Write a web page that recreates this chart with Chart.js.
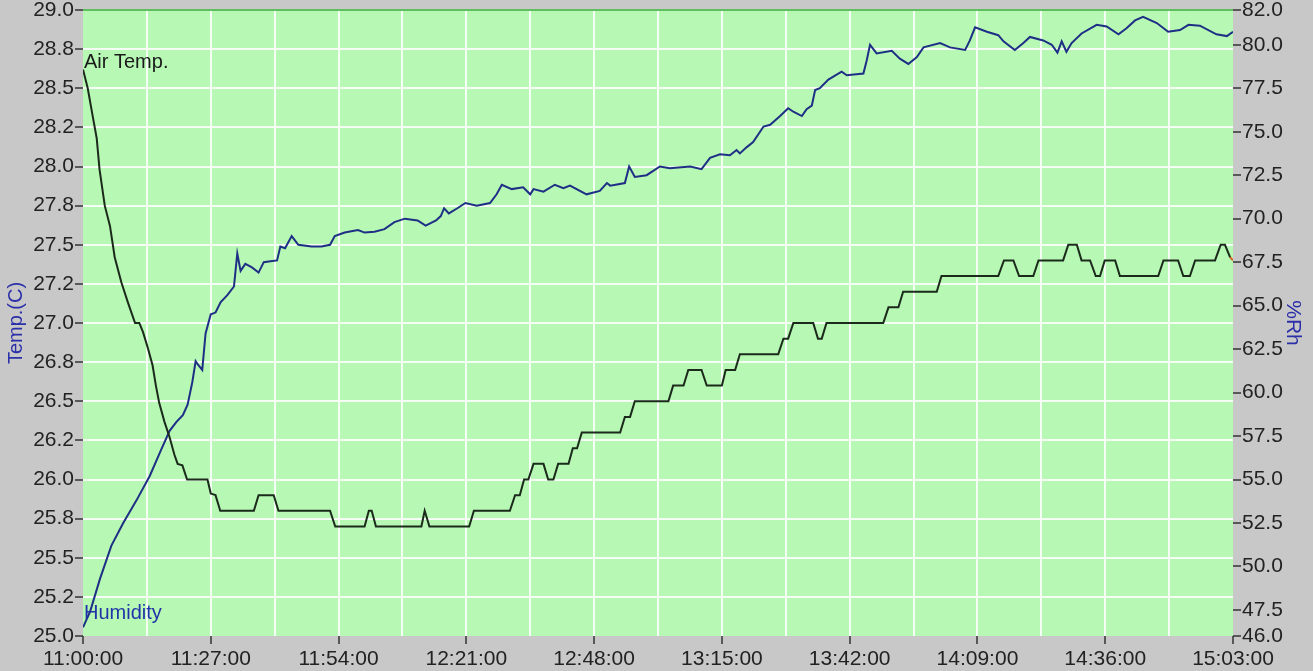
<!DOCTYPE html>
<html>
<head>
<meta charset="utf-8">
<script src="https://cdn.jsdelivr.net/npm/chart.js@4/dist/chart.umd.min.js"></script>
<style>
  html, body { margin: 0; padding: 0; background: #c8c8c8; overflow: hidden; }
  #wrap { width: 1313px; height: 671px; }
</style>
</head>
<body>
<div id="wrap"><canvas id="logChart"></canvas></div>
<script>
// x axis: minutes after 11:00:00
const gridMinutes = [0, 13.5, 27, 40.5, 54, 67.5, 81, 94.5, 108, 121.5, 135, 148.5, 162, 175.5, 189, 202.5, 216, 229.5, 243];
const timeLabels = ['11:00:00', '11:27:00', '11:54:00', '12:21:00', '12:48:00', '13:15:00', '13:42:00', '14:09:00', '14:36:00', '15:03:00'];

const tempTicks = [25, 25.25, 25.5, 25.75, 26, 26.25, 26.5, 26.75, 27, 27.25, 27.5, 27.75, 28, 28.25, 28.5, 28.75, 29];
const tempTickLabels = ['25.0', '25.2', '25.5', '25.8', '26.0', '26.2', '26.5', '26.8', '27.0', '27.2', '27.5', '27.8', '28.0', '28.2', '28.5', '28.8', '29.0'];
const humTicks = [46, 47.5, 50, 52.5, 55, 57.5, 60, 62.5, 65, 67.5, 70, 72.5, 75, 77.5, 80, 82];

// Air Temp. (C)
const tempTimes = [0, 1, 2, 2.9, 3.5, 4.6, 5.7, 6.7, 8.1, 9.5, 11.0, 11.9, 12.7, 13.7, 14.7, 15.4, 16.1, 17.2, 18.3, 19.3,
  20.0, 21.0, 22.0, 26.3, 27.0, 28.0, 29.0, 36.1, 37.1, 40.3, 41.3, 52.2, 53.3, 59.5, 60.4, 61.0, 61.9, 71.5, 72.2, 73.2,
  81.6, 82.6, 90.2, 91.3, 92.3, 93.2, 94.1, 95.2, 97.3, 98.3, 99.4, 100.4, 102.6, 103.5, 104.4, 105.4, 113.5, 114.5, 115.6, 116.6,
  123.7, 124.7, 126.9, 127.9, 130.7, 131.8, 135.0, 135.8, 137.8, 138.8, 146.9, 148.0, 149.0, 150.1, 154.3, 155.3, 156.1, 157.1, 169.1, 170.2,
  172.3, 173.3, 180.4, 181.4, 193.4, 194.6, 196.6, 197.8, 200.8, 201.9, 207.1, 208.2, 210.0, 211.0, 212.8, 214.0, 214.9, 215.9, 218.1, 219.1,
  227.2, 228.3, 231.4, 232.5, 233.9, 235.0, 239.2, 240.4, 241.3, 242.4, 243];
const tempValues = [28.62, 28.50, 28.33, 28.18, 27.98, 27.75, 27.62, 27.42, 27.26, 27.13, 27.0, 27.0, 26.94, 26.84, 26.73, 26.6, 26.49, 26.37, 26.27, 26.16,
  26.1, 26.09, 26.0, 26.0, 25.91, 25.9, 25.8, 25.8, 25.9, 25.9, 25.8, 25.8, 25.7, 25.7, 25.8, 25.8, 25.7, 25.7, 25.8, 25.7,
  25.7, 25.8, 25.8, 25.9, 25.9, 26.0, 26.0, 26.1, 26.1, 26.0, 26.0, 26.1, 26.1, 26.2, 26.2, 26.3, 26.3, 26.4, 26.4, 26.5,
  26.5, 26.6, 26.6, 26.7, 26.7, 26.6, 26.6, 26.7, 26.7, 26.8, 26.8, 26.9, 26.9, 27.0, 27.0, 26.9, 26.9, 27.0, 27.0, 27.1,
  27.1, 27.2, 27.2, 27.3, 27.3, 27.4, 27.4, 27.3, 27.3, 27.4, 27.4, 27.5, 27.5, 27.4, 27.4, 27.3, 27.3, 27.4, 27.4, 27.3,
  27.3, 27.4, 27.4, 27.3, 27.3, 27.4, 27.4, 27.5, 27.5, 27.42, 27.4];

// Humidity (%Rh)
const humTimes = [0, 1.5, 3.6, 6.0, 8.5, 11.3, 14.1, 16.5, 18.3, 19.7, 21.1, 22.1, 23.1, 23.8, 24.3, 25.2, 25.9, 27.0, 28.0, 29.1,
  30.5, 31.9, 32.6, 33.3, 34.3, 35.7, 37.1, 38.2, 39.6, 41.0, 41.7, 42.7, 44.1, 45.5, 48.3, 50.4, 52.2, 53.2, 55.3, 58.1,
  59.5, 61.6, 63.7, 65.8, 68.0, 70.7, 72.4, 74.6, 75.6, 76.3, 77.3, 79.1, 80.8, 83.2, 86.0, 87.4, 88.5, 90.6, 93.0, 94.5,
  95.2, 97.3, 99.7, 101.5, 102.9, 106.4, 109.2, 110.7, 111.4, 114.5, 115.4, 116.6, 119.1, 121.9, 124.0, 128.3, 130.7, 132.5, 134.6, 136.7,
  138.1, 138.8, 140.2, 141.6, 143.8, 145.2, 147.3, 149.0, 150.1, 151.9, 152.9, 154.0, 154.7, 155.7, 157.5, 160.3, 161.4, 164.9, 165.6, 166.3,
  167.7, 170.9, 172.6, 174.4, 176.2, 177.6, 181.1, 183.2, 186.4, 187.4, 188.5, 191.0, 193.4, 194.5, 196.9, 198.7, 200.1, 202.9, 204.7, 205.9,
  206.8, 207.8, 208.9, 211.0, 214.2, 216.3, 218.8, 220.5, 222.3, 224.0, 226.9, 229.3, 231.8, 233.6, 236.0, 239.5, 241.7, 243.0];
const humValues = [46.5, 47.4, 49.3, 51.2, 52.5, 53.8, 55.2, 56.7, 57.8, 58.3, 58.7, 59.3, 60.6, 61.8, 61.6, 61.3, 63.4, 64.5, 64.6, 65.2,
  65.6, 66.1, 68.0, 67.0, 67.4, 67.2, 66.9, 67.5, 67.55, 67.6, 68.4, 68.3, 69.0, 68.5, 68.4, 68.4, 68.5, 69.0, 69.2, 69.35,
  69.2, 69.25, 69.4, 69.8, 70.0, 69.9, 69.6, 69.9, 70.15, 70.6, 70.3, 70.6, 70.9, 70.75, 70.9, 71.4, 71.95, 71.7, 71.8, 71.4,
  71.7, 71.55, 71.95, 71.75, 71.9, 71.4, 71.6, 72.05, 71.9, 72.05, 73.0, 72.4, 72.5, 73.0, 72.9, 73.0, 72.85, 73.5, 73.7, 73.65,
  73.95, 73.75, 74.1, 74.4, 75.3, 75.4, 75.9, 76.35, 76.15, 75.9, 76.3, 76.5, 77.4, 77.5, 78.0, 78.45, 78.25, 78.35, 79.1, 80.0,
  79.5, 79.65, 79.2, 78.9, 79.3, 79.85, 80.1, 79.85, 79.7, 80.25, 81.0, 80.75, 80.55, 80.2, 79.7, 80.1, 80.45, 80.25, 80.0, 79.55,
  80.2, 79.6, 80.1, 80.65, 81.15, 81.05, 80.6, 80.95, 81.4, 81.6, 81.25, 80.75, 80.85, 81.15, 81.1, 80.6, 80.5, 80.75];

const FONT = 'Liberation Sans, Arial, sans-serif';
const CLEAR = 'rgba(0,0,0,0)';
const GRID = 'rgba(255,255,255,0.85)';

// green plot area on a grey page, plus the series names inside the plot
const backdrop = {
  id: 'backdrop',
  beforeDraw(chart) {
    const {ctx, chartArea: a} = chart;
    ctx.save();
    ctx.fillStyle = '#c8c8c8';
    ctx.fillRect(0, 0, chart.width, chart.height);
    ctx.fillStyle = '#b6f8b4';
    ctx.fillRect(a.left, a.top, a.right - a.left, a.bottom - a.top);
    ctx.restore();
  },
  afterDatasetsDraw(chart) {
    const {ctx, chartArea: a} = chart;
    ctx.save();
    ctx.font = '20px ' + FONT;
    ctx.textAlign = 'left';
    ctx.textBaseline = 'alphabetic';
    ctx.fillStyle = '#1a1a1a';
    ctx.fillText(chart.data.datasets[0].label, a.left + 1, a.top + 58);
    ctx.fillStyle = '#2233aa';
    ctx.fillText(chart.data.datasets[1].label, a.left + 1, a.bottom - 17);
    ctx.restore();
  }
};

const lastTemp = tempTimes.length - 1;

new Chart(document.getElementById('logChart'), {
  type: 'line',
  data: {
    datasets: [{
      label: 'Air Temp.',
      data: tempTimes.map((t, i) => ({x: t, y: tempValues[i]})),
      yAxisID: 'y',
      borderColor: '#1b2a1b',
      borderWidth: 2,
      pointRadius: 0,
      tension: 0,
      segment: { borderColor: c => c.p1DataIndex === lastTemp ? '#d0641e' : undefined }
    }, {
      label: 'Humidity',
      data: humTimes.map((t, i) => ({x: t, y: humValues[i]})),
      yAxisID: 'y2',
      borderColor: '#1e2f85',
      borderWidth: 2,
      pointRadius: 0,
      tension: 0
    }]
  },
  options: {
    responsive: true,
    maintainAspectRatio: false,
    animation: false,
    layout: { padding: { top: 10, left: 0, right: 0, bottom: 0 } },
    plugins: { legend: { display: false }, tooltip: { enabled: false } },
    scales: {
      x: {
        type: 'linear', min: 0, max: 243,
        afterBuildTicks: s => { s.ticks = gridMinutes.map(v => ({value: v})); },
        afterFit: s => { s.height = 35; s.paddingLeft = 0; s.paddingRight = 0; },
        border: { display: false },
        grid: {
          color: c => (c.index === 0 || c.index === gridMinutes.length - 1) ? CLEAR : GRID,
          lineWidth: 2,
          tickColor: c => c.index % 2 === 0 ? '#333' : CLEAR,
          tickWidth: 1.5,
          tickLength: 8
        },
        ticks: {
          autoSkip: false, maxRotation: 0, padding: 3, color: '#222',
          font: { family: FONT, size: 21 },
          callback: (v, i) => i % 2 === 0 ? timeLabels[i / 2] : ''
        }
      },
      y: {
        position: 'left', min: 25, max: 29,
        afterBuildTicks: s => { s.ticks = tempTicks.map(v => ({value: v})); },
        afterFit: s => { s.width = 83; s.paddingTop = 0; s.paddingBottom = 0; },
        border: { display: false },
        grid: {
          color: c => c.tick.value === 29 ? '#5fbf5f' : (c.tick.value === 25 ? CLEAR : GRID),
          lineWidth: 2,
          tickColor: '#333',
          tickWidth: 1.5,
          tickLength: 8
        },
        ticks: {
          padding: 1, color: '#222',
          font: { family: FONT, size: 21 },
          callback: (v, i) => tempTickLabels[i]
        },
        title: { display: true, text: 'Temp.(C)', color: '#2b2fa8', font: { family: FONT, size: 20 }, padding: { top: 4, bottom: 0 } }
      },
      y2: {
        position: 'right', min: 46, max: 82,
        afterBuildTicks: s => { s.ticks = humTicks.map(v => ({value: v})); },
        afterFit: s => { s.width = 80; s.paddingTop = 0; s.paddingBottom = 0; },
        border: { display: false },
        grid: { drawOnChartArea: false, tickColor: '#333', lineWidth: 2, tickWidth: 1.5, tickLength: 8 },
        ticks: {
          padding: 1, color: '#222',
          font: { family: FONT, size: 21 },
          callback: v => v.toFixed(1)
        },
        title: { display: true, text: '%Rh', color: '#2b2fa8', font: { family: FONT, size: 21 }, padding: { top: 8, bottom: 0 } }
      }
    }
  },
  plugins: [backdrop]
});
</script>
</body>
</html>
